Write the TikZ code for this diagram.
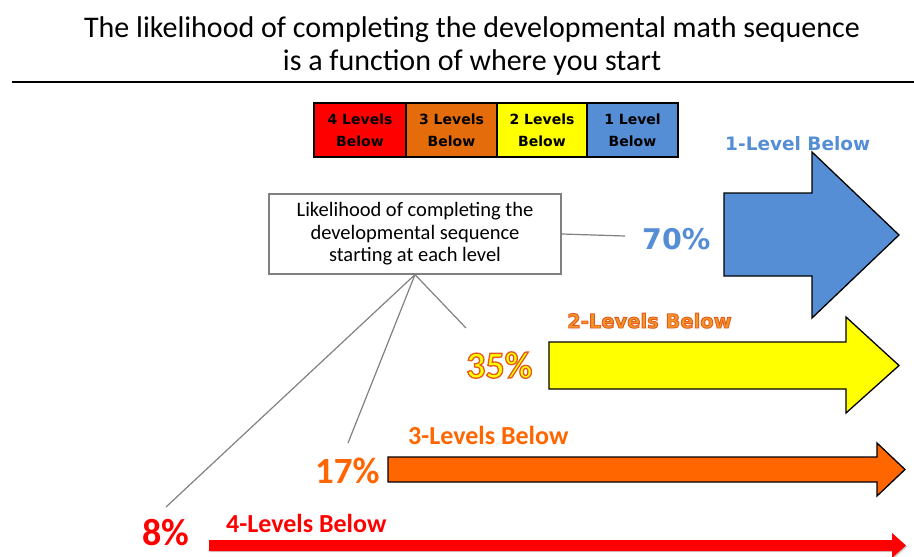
\documentclass[tikz,border=0pt]{standalone}
\usepackage{fontspec}
\setmainfont{Carlito}
\newfontfamily\widefont{DejaVu Sans}

\definecolor{lvlred}{RGB}{255,0,0}
\definecolor{lvlorange}{RGB}{228,108,10}
\definecolor{lvlyellow}{RGB}{255,255,0}
\definecolor{lvlblue}{RGB}{85,142,213}
\definecolor{arroworange}{RGB}{255,102,0}
\definecolor{linegray}{RGB}{128,128,128}
\definecolor{goldtext}{RGB}{242,150,40}
\definecolor{shadowgray}{RGB}{170,170,170}

% filled text with a stroked orange rim (PDF text render mode 2)
\newcommand{\rimtext}[3]{%
  \textcolor{#1}{\special{pdf:literal direct 2 Tr #2 w 0.894 0.353 0.118 RG}#3\special{pdf:literal direct 0 Tr}}}

\begin{document}
\begin{tikzpicture}[x=1pt,y=-1pt,
  cell/.style={draw=black,line width=1.4pt,minimum height=54pt,inner sep=0pt,
    align=center,font=\widefont\bfseries\fontsize{14}{22}\selectfont},
  blockarrow/.style={draw=black,line width=1.3pt,line join=miter},
  lead/.style={draw=linegray,line width=1.2pt},
  pct/.style={anchor=base west,inner sep=0pt,font=\bfseries\fontsize{37}{40}\selectfont},
  lvl/.style={anchor=base west,inner sep=0pt,font=\bfseries\fontsize{26}{30}\selectfont}]
\useasboundingbox (0,0) rectangle (914,557);

% title and rule
\node[anchor=base,inner sep=0pt,font=\fontsize{30}{34}\selectfont] (title1) at (472,37)
  {The likelihood of completing the developmental math sequence};
\node[anchor=base,inner sep=0pt,font=\fontsize{30}{34}\selectfont] (title2) at (472,70)
  {is a function of where you start};
\coordinate (ruleL) at (12,82);
\coordinate (ruleR) at (914,82);
\draw[line width=1.5pt] (ruleL) -- (ruleR);

% colour legend
\node[cell,fill=lvlred,minimum width=92pt] (leg4) at (360,130) {4 Levels\\Below};
\node[cell,fill=lvlorange,minimum width=91pt] (leg3) at (451.5,130) {3 Levels\\Below};
\node[cell,fill=lvlyellow,minimum width=90pt] (leg2) at (542,130) {2 Levels\\Below};
\node[cell,fill=lvlblue,minimum width=91pt] (leg1) at (632.5,130) {1 Level\\Below};

% block arrows, one per starting level
\path[blockarrow,fill=lvlblue]
  (724,193) -- (812,193) -- (812,152) -- (899,235) -- (812,318) -- (812,276) -- (724,276) -- cycle;
\path[blockarrow,fill=lvlyellow]
  (549,342) -- (846,342) -- (846,317) -- (899,365.5) -- (846,413) -- (846,389) -- (549,389) -- cycle;
\path[blockarrow,fill=arroworange]
  (388,457) -- (877,457) -- (877,443) -- (905,469.5) -- (877,496) -- (877,482) -- (388,482) -- cycle;
\fill[shadowgray!60,shift={(1.2,1.2)}]
  (209,540) -- (892,540) -- (892,533) -- (906,545.5) -- (892,558) -- (892,551) -- (209,551) -- cycle;
\fill[lvlred]
  (209,540) -- (892,540) -- (892,533) -- (906,545.5) -- (892,558) -- (892,551) -- (209,551) -- cycle;

% arrow captions
\node[anchor=base west,inner sep=0pt,text=lvlblue,font=\widefont\bfseries\fontsize{18.5}{22}\selectfont]
  (cap1) at (725,150) {1-Level Below};
\node[anchor=base west,inner sep=0pt,font=\widefont\bfseries\fontsize{19.5}{22}\selectfont]
  (cap2) at (567,328) {\rimtext{goldtext}{0.9}{2-Levels Below}};
\node[lvl,text=arroworange] (cap3) at (408,444) {3-Levels Below};
\node[lvl,text=lvlred] (cap4) at (226,532) {4-Levels Below};

% completion percentages
\node[anchor=base west,inner sep=0pt,text=lvlblue,font=\widefont\bfseries\fontsize{28.5}{32}\selectfont]
  (p70) at (642,249) {70\%};
\node[pct,font=\bfseries\fontsize{38}{40}\selectfont] (p35) at (466,378)
  {\rimtext{lvlyellow}{1.3}{35\%}};
\node[pct,text=arroworange] (p17) at (315,483) {17\%};
\node[pct,font=\bfseries\fontsize{38}{40}\selectfont,text=lvlred] (p8) at (142,545) {8\%};

% explanatory box and its leader lines
\node[draw=linegray,line width=1.2pt,fill=white,minimum width=292pt,minimum height=80pt,
  inner sep=0pt,align=center,font=\fontsize{20.5}{22.5}\selectfont] (likely) at (415,234)
  {Likelihood of completing the\\developmental sequence\\starting at each level};
\coordinate (end70) at (625,236);
\coordinate (end35) at (466,328);
\coordinate (end17) at (348,443);
\coordinate (end8) at (166,507);
\draw[lead] (likely.east) -- (end70);
\draw[lead] (likely.south) -- (end35);
\draw[lead] (likely.south) -- (end17);
\draw[lead] (likely.south) -- (end8);
\end{tikzpicture}
\end{document}
